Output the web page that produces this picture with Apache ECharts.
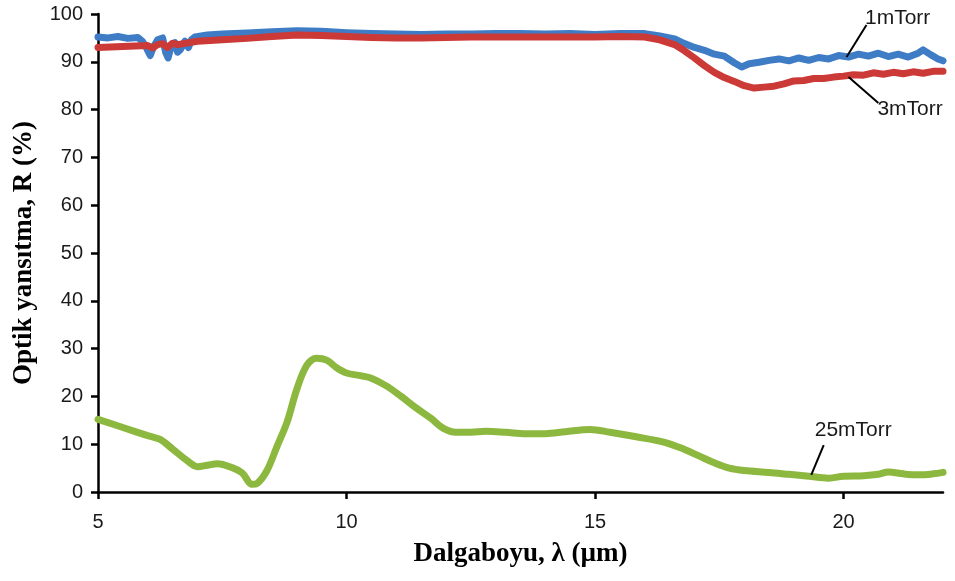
<!DOCTYPE html>
<html>
<head>
<meta charset="utf-8">
<script src="https://cdn.jsdelivr.net/npm/echarts@6/dist/echarts.min.js"></script>
<style>
html,body{margin:0;padding:0;background:#fff;}
#chart{width:955px;height:581px;}
</style>
</head>
<body>
<div id="chart"></div>
<script>
// ---- data ----
var xTickValues = [5, 10, 15, 20];
var yTickValues = [0, 10, 20, 30, 40, 50, 60, 70, 80, 90, 100];

var x1m = [5.0,5.2,5.4,5.6,5.8,5.9,5.97,6.05,6.12,6.2,6.3,6.36,6.41,6.47,6.55,6.6,6.66,6.75,6.82,6.88,6.95,7.2,7.5,8.0,8.5,9.0,9.5,10.0,10.5,11.0,11.5,12.0,12.5,13.0,13.5,14.0,14.5,15.0,15.5,16.0,16.3,16.6,16.8,17.0,17.2,17.4,17.6,17.8,17.95,18.1,18.3,18.5,18.7,18.9,19.1,19.3,19.5,19.7,19.9,20.1,20.3,20.5,20.7,20.9,21.1,21.3,21.5,21.6,21.75,21.9,22.0];
var y1m = [95.2,95.0,95.3,94.9,95.1,94.2,93.0,91.3,93.2,94.6,95.0,92.0,90.8,93.2,94.0,92.0,92.6,94.3,93.0,94.6,95.2,95.6,95.8,96.0,96.3,96.5,96.4,96.1,95.9,95.8,95.7,95.8,95.8,95.9,95.9,95.8,95.9,95.7,95.9,95.9,95.4,94.8,93.8,93.0,92.4,91.6,91.2,89.8,88.9,89.6,89.9,90.3,90.6,90.2,90.8,90.3,90.9,90.6,91.3,91.0,91.6,91.2,91.8,91.1,91.6,91.0,91.8,92.5,91.5,90.6,90.2];

var x3m = [5.0,5.5,6.0,6.1,6.2,6.3,6.4,6.5,6.6,7.0,7.5,8.0,8.5,9.0,9.5,10.0,10.5,11.0,11.5,12.0,12.5,13.0,13.5,14.0,14.5,15.0,15.5,16.0,16.3,16.6,16.8,17.0,17.2,17.4,17.6,17.8,18.0,18.2,18.4,18.6,18.8,19.0,19.2,19.4,19.6,19.8,20.0,20.2,20.4,20.6,20.8,21.0,21.2,21.4,21.6,21.8,22.0];
var y3m = [93.0,93.2,93.4,92.9,93.6,93.8,93.0,93.9,93.6,94.3,94.6,94.9,95.3,95.6,95.5,95.3,95.1,95.0,95.0,95.1,95.2,95.2,95.2,95.2,95.2,95.2,95.3,95.2,94.6,93.6,92.3,90.8,89.2,87.8,86.7,85.9,85.0,84.5,84.7,84.9,85.4,86.0,86.1,86.5,86.5,86.8,87.0,87.3,87.2,87.7,87.4,87.8,87.5,87.9,87.6,88.0,88.0];

var x25m = [5.0,5.5,6.0,6.25,6.5,6.8,7.0,7.2,7.4,7.7,7.9,8.1,8.2,8.4,8.6,8.8,9.0,9.2,9.4,9.6,9.8,10.0,10.3,10.5,10.8,11.1,11.4,11.7,11.95,12.2,12.5,12.8,13.2,13.6,14.0,14.4,14.9,15.3,15.8,16.4,16.8,17.1,17.4,17.7,18.0,18.5,18.9,19.3,19.7,20.0,20.4,20.7,20.9,21.2,21.5,21.8,22.0];
var y25m = [15.2,13.5,11.8,11.0,9.0,6.5,5.3,5.6,5.9,5.1,4.0,1.6,1.8,4.5,9.5,14.5,21.5,26.5,28.0,27.6,26.0,24.9,24.3,23.8,22.2,20.0,17.6,15.4,13.3,12.5,12.5,12.7,12.5,12.2,12.2,12.6,13.1,12.5,11.6,10.4,8.9,7.5,6.1,5.0,4.5,4.1,3.7,3.3,2.9,3.3,3.4,3.7,4.2,3.8,3.6,3.8,4.1];

var seriesNames = ['1mTorr', '3mTorr', '25mTorr'];

function pairs(xs, ys) { return xs.map(function (x, i) { return [x, ys[i]]; }); }

var chart = echarts.init(document.getElementById('chart'), null, {renderer: 'canvas'});
var tickFont = 'Liberation Sans, Arial, sans-serif';
var titleFont = 'Liberation Serif, Times New Roman, serif';
var leader = {color: '#000', width: 2, type: 'solid'};

function annot(lineFrom, lineTo, textAt, text) {
  return {
    markLine: {
      silent: true, symbol: 'none', animation: false,
      lineStyle: leader, label: {show: false},
      data: [[{coord: lineFrom}, {coord: lineTo}]]
    },
    markPoint: {
      silent: true, symbol: 'circle', symbolSize: 0, animation: false,
      label: {show: true, position: 'right', distance: 0, color: '#1a1a1a',
        fontFamily: tickFont, fontSize: 21, formatter: text},
      data: [{coord: textAt}]
    }
  };
}

var a1 = annot([20.06, 91.0], [20.46, 97.7], [20.43, 99.2], seriesNames[0]);
var a3 = annot([20.1, 86.8], [20.7, 81.4], [20.68, 80.0], seriesNames[1]);
var a25 = annot([19.6, 9.8], [19.35, 3.6], [19.42, 13.0], seriesNames[2]);

var option = {
  animation: false,
  backgroundColor: '#fff',
  grid: {left: 98, right: 12, top: 14, bottom: 89},
  xAxis: {
    type: 'value', min: 5, max: 22, interval: 5,
    name: 'Dalgaboyu, λ (µm)', nameLocation: 'middle', nameGap: 49,
    nameTextStyle: {fontFamily: titleFont, fontWeight: 'bold', fontSize: 27, color: '#000'},
    axisLine: {show: true, lineStyle: {color: '#000', width: 2.5}},
    axisTick: {show: true, length: 7, inside: false, lineStyle: {color: '#000', width: 2.5}, customValues: xTickValues},
    axisLabel: {fontFamily: tickFont, fontSize: 20, color: '#1a1a1a', margin: 20, customValues: xTickValues},
    splitLine: {show: false}
  },
  yAxis: {
    type: 'value', min: 0, max: 100, interval: 10,
    name: 'Optik yansıtma, R (%)', nameLocation: 'middle', nameGap: 60,
    nameTextStyle: {fontFamily: titleFont, fontWeight: 'bold', fontSize: 27, color: '#000'},
    axisLine: {show: true, lineStyle: {color: '#000', width: 2.5}},
    axisTick: {show: true, length: 7, inside: false, lineStyle: {color: '#000', width: 2.5}, customValues: yTickValues},
    axisLabel: {fontFamily: tickFont, fontSize: 20, color: '#1a1a1a', margin: 15, customValues: yTickValues},
    splitLine: {show: false}
  },
  series: [
    Object.assign({
      name: seriesNames[0], type: 'line', data: pairs(x1m, y1m), showSymbol: false, smooth: false,
      lineStyle: {color: '#3f7cc6', width: 7, join: 'round', cap: 'round'}, itemStyle: {color: '#3f7cc6'}, z: 2
    }, a1),
    Object.assign({
      name: seriesNames[1], type: 'line', data: pairs(x3m, y3m), showSymbol: false, smooth: false,
      lineStyle: {color: '#cc3a38', width: 7, join: 'round', cap: 'round'}, itemStyle: {color: '#cc3a38'}, z: 3
    }, a3),
    Object.assign({
      name: seriesNames[2], type: 'line', data: pairs(x25m, y25m), showSymbol: false, smooth: 0.35,
      lineStyle: {color: '#8db83f', width: 7, cap: 'round'}, itemStyle: {color: '#8db83f'}, z: 2
    }, a25)
  ]
};
chart.setOption(option);
</script>
</body>
</html>
